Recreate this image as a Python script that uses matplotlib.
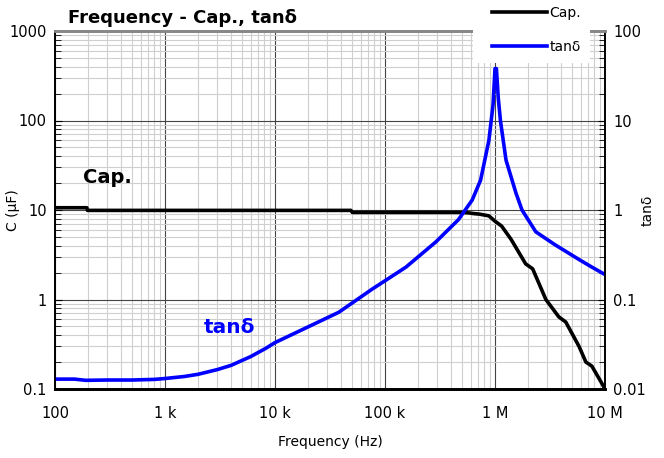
import matplotlib
matplotlib.use("Agg")
import matplotlib.pyplot as plt
from matplotlib.patches import Rectangle
from matplotlib.ticker import LogLocator, FixedLocator, NullFormatter, FixedFormatter

# ---- data ----
cap_freq = [100, 195, 197, 49000, 50500, 500000, 570000, 650000, 720000, 880000,
            1.0e6, 1.15e6, 1.4e6, 1.9e6, 2.2e6, 2.9e6, 3.8e6, 4.4e6, 5.8e6,
            6.7e6, 7.6e6, 9.2e6, 1.0e7]
cap_val = [10.6, 10.6, 9.9, 9.9, 9.4, 9.4, 9.3, 9.1, 9.0, 8.6,
           7.5, 6.6, 4.7, 2.5, 2.2, 1.0, 0.64, 0.56, 0.3,
           0.2, 0.18, 0.12, 0.1]

tan_freq = [100, 150, 190, 300, 500, 800, 1000, 1500, 2000, 3000, 4000, 6000, 8300,
            10000, 19000, 38000, 76000, 155000, 290000, 465000, 620000, 740000,
            880000, 960000, 1.0e6, 1.03e6, 1.07e6, 1.12e6, 1.26e6, 1.55e6, 1.76e6,
            2.35e6, 3.5e6, 5.8e6, 7.6e6, 1.0e7]
tan_val = [0.0129, 0.0129, 0.0125, 0.0126, 0.0126, 0.0128, 0.0131, 0.0138, 0.0146, 0.0165,
           0.0184, 0.023, 0.0286, 0.033, 0.048, 0.072, 0.13, 0.23, 0.44, 0.78, 1.29, 2.16,
           6.0, 15.0, 38.0, 38.0, 18.0, 10.0, 3.6, 1.55, 1.0,
           0.57, 0.41, 0.28, 0.23, 0.19]

x_ticks = [1e2, 1e3, 1e4, 1e5, 1e6, 1e7]
x_labels = ["100", "1 k", "10 k", "100 k", "1 M", "10 M"]
cap_ticks = [0.1, 1, 10, 100, 1000]
cap_labels = ["0.1", "1", "10", "100", "1000"]
tan_ticks = [0.01, 0.1, 1, 10, 100]
tan_labels = ["0.01", "0.1", "1", "10", "100"]

W, H = 664, 458
fig = plt.figure(figsize=(W / 100, H / 100), dpi=100)
L, R, T, B = 55, 605, 31, 389
ax = fig.add_axes([L / W, (H - B) / H, (R - L) / W, (B - T) / H])
ax2 = ax.twinx()

for a in (ax, ax2):
    a.set_xscale("log")
    a.set_yscale("log")
    a.set_xlim(100, 1e7)
ax.set_ylim(0.1, 1000)
ax2.set_ylim(0.01, 100)

subs = [2, 3, 4, 5, 6, 7, 8, 9]
ax.xaxis.set_major_locator(FixedLocator(x_ticks))
ax.xaxis.set_major_formatter(FixedFormatter(x_labels))
ax.xaxis.set_minor_locator(LogLocator(base=10, subs=subs, numticks=20))
ax.xaxis.set_minor_formatter(NullFormatter())
ax.yaxis.set_major_locator(FixedLocator(cap_ticks))
ax.yaxis.set_major_formatter(FixedFormatter(cap_labels))
ax.yaxis.set_minor_locator(LogLocator(base=10, subs=subs, numticks=20))
ax.yaxis.set_minor_formatter(NullFormatter())
ax2.yaxis.set_major_locator(FixedLocator(tan_ticks))
ax2.yaxis.set_major_formatter(FixedFormatter(tan_labels))
ax2.yaxis.set_minor_locator(LogLocator(base=10, subs=subs, numticks=20))
ax2.yaxis.set_minor_formatter(NullFormatter())

ax.grid(True, which="minor", color="#cfcfcf", linewidth=0.8)
ax.grid(True, which="major", color="#444444", linewidth=0.8)
ax.set_axisbelow(True)

ax.tick_params(axis="x", which="both", length=0, labelsize=10.5, pad=12)
ax.tick_params(axis="y", which="major", direction="in", length=5, labelsize=10.5, pad=6)
ax.tick_params(axis="y", which="minor", direction="in", length=4)
ax2.tick_params(axis="y", which="major", direction="in", length=5, labelsize=10.5, pad=6)
ax2.tick_params(axis="y", which="minor", direction="in", length=4)

for a in (ax, ax2):
    a.spines["top"].set_color("#888888")
    a.spines["top"].set_linewidth(2)
    a.spines["bottom"].set_linewidth(2)
    a.spines["left"].set_linewidth(1.2)
    a.spines["right"].set_linewidth(1.2)

l1, = ax.plot(cap_freq, cap_val, color="black", linewidth=2.6, label="Cap.",
              solid_joinstyle="round")
l2, = ax2.plot(tan_freq, tan_val, color="#0000ff", linewidth=2.6, label="tanδ",
               solid_joinstyle="round")

ax.set_ylabel("C (μF)", fontsize=10)
ax.yaxis.set_label_coords(-(L - 20) / (R - L), 0.5)
ax2.set_ylabel("tanδ", fontsize=10)
ax2.yaxis.set_label_coords(1 + (641 - R) / (R - L), 0.5)
ax.set_xlabel("Frequency (Hz)", fontsize=10, labelpad=10)

ax.text(180, 20, "Cap.", fontsize=14, fontweight="bold", color="black")
ax.text(2250, 0.42, "tanδ", fontsize=14.5, fontweight="bold", color="#0000ff")

fig.text(68 / W, 1 - 18 / H, "Frequency - Cap., tanδ", fontsize=13, fontweight="bold",
         va="center", ha="left")

fig.add_artist(Rectangle((473 / W, 1 - 63 / H), (590 - 473) / W, 63 / H,
                         transform=fig.transFigure, facecolor="white",
                         edgecolor="none", zorder=3))
leg = fig.legend(handles=[l1, l2], loc="upper left", bbox_to_anchor=(486 / W, 1.0),
                 frameon=False, fontsize=10, handlelength=4.0, handletextpad=0.15,
                 labelspacing=1.45, borderpad=0.4, borderaxespad=0)

fig.savefig("out.png", dpi=100)
